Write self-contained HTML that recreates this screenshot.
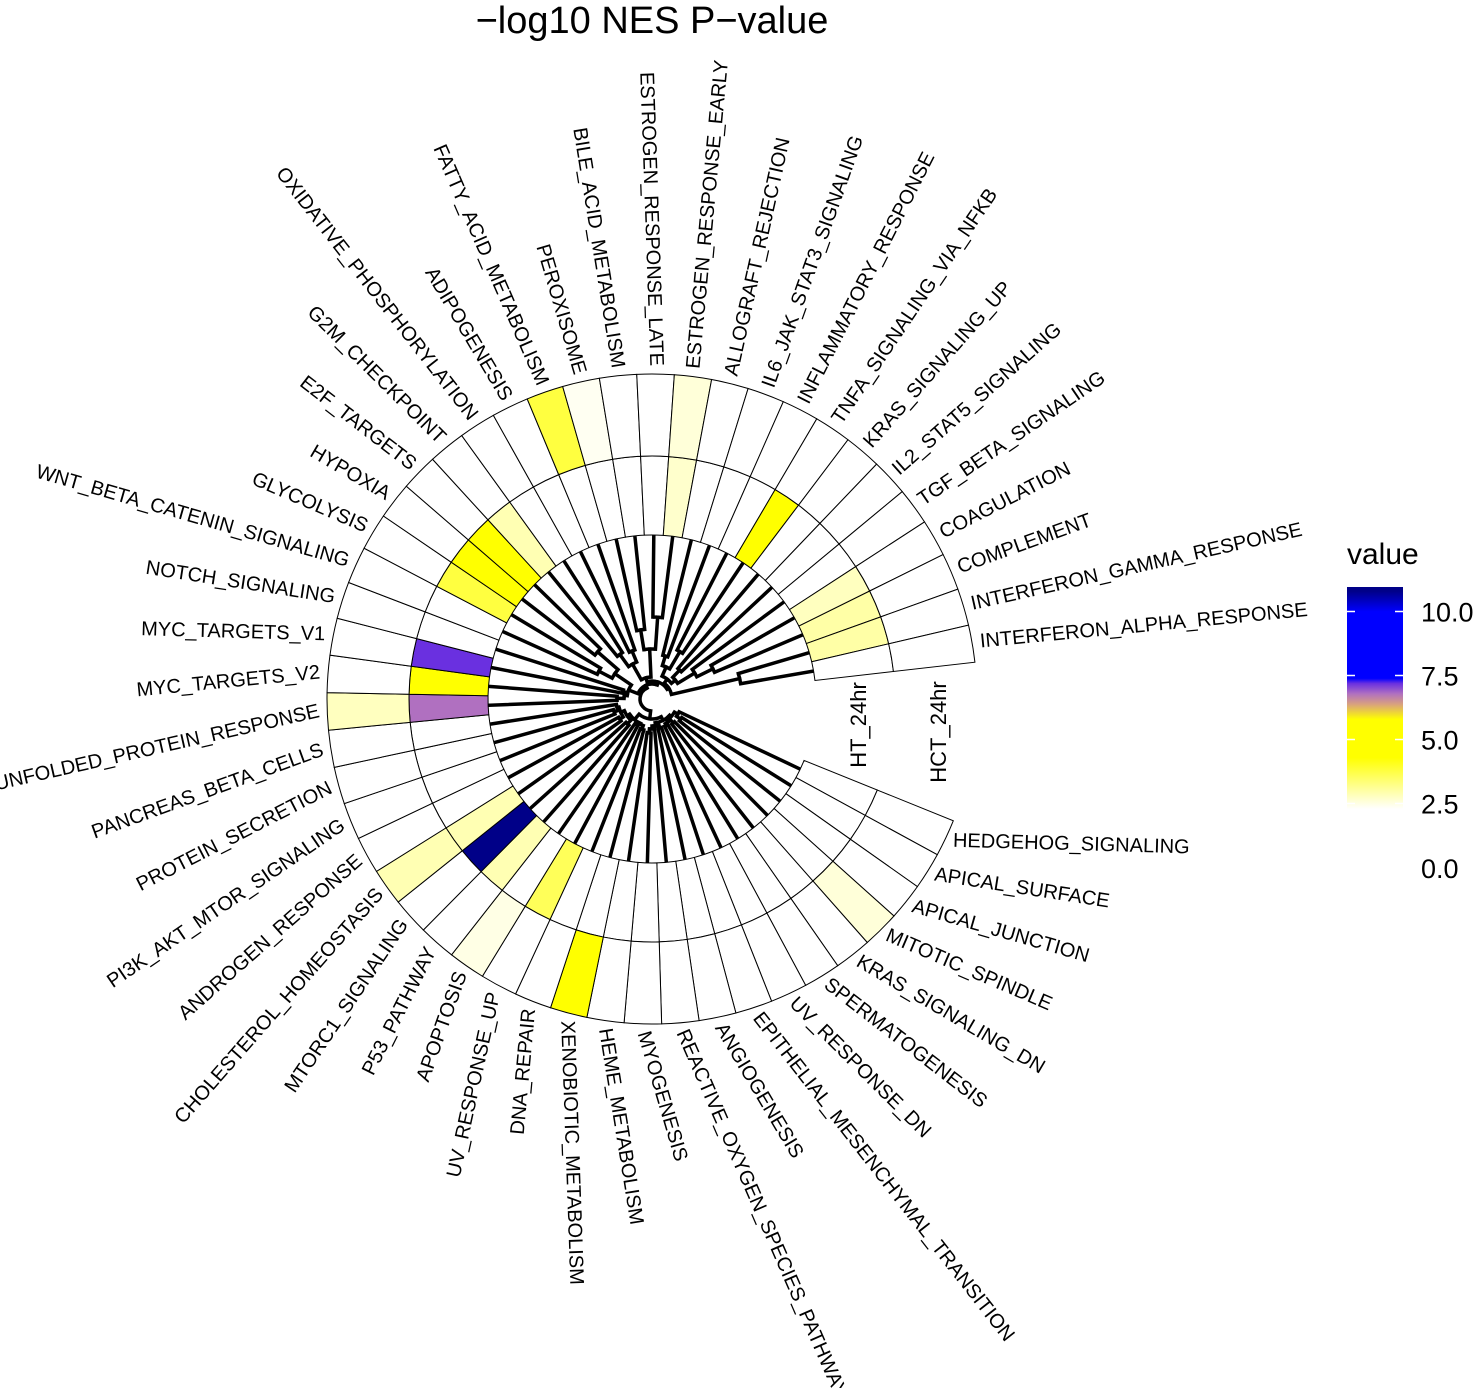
<!DOCTYPE html>
<html><head><meta charset="utf-8"><style>
html,body{margin:0;padding:0;background:#fff;}
svg{display:block;font-family:"Liberation Sans",sans-serif;}
.lb{font-size:20px;dominant-baseline:middle;}
.fl{text-anchor:end;}
</style></head><body>
<svg id="chart" width="1480" height="1388" viewBox="0 0 1480 1388">
<defs>
<path id="sht" d="M164,0 L243,0 A243,243 0 0 1 241.37,28.06 L162.90,18.94 A164,164 0 0 0 164,0 Z" stroke="#000" stroke-width="1"/>
<path id="shct" d="M243,0 L325,0 A325,325 0 0 1 322.83,37.52 L241.37,28.06 A243,243 0 0 0 243,0 Z" stroke="#000" stroke-width="1"/>
<linearGradient id="lgrad" x1="0" y1="1" x2="0" y2="0">
<stop offset="0" stop-color="#ffffff"/><stop offset="0.047" stop-color="#ffffff"/><stop offset="0.267" stop-color="#ffff00"/><stop offset="0.432" stop-color="#ffff00"/><stop offset="0.498" stop-color="#d8a080"/><stop offset="0.542" stop-color="#b070c0"/><stop offset="0.586" stop-color="#6a30e0"/><stop offset="0.608" stop-color="#0000ff"/><stop offset="0.894" stop-color="#0000ff"/><stop offset="0.982" stop-color="#000088"/><stop offset="1" stop-color="#000088"/>
</linearGradient>
</defs>
<text x="652" y="33" font-size="38" text-anchor="middle">−log10 NES P−value</text>

<g id="ringht" transform="translate(652,699)">
<use href="#sht" class="ch" transform="rotate(22)" fill="#fff"/>
<use href="#sht" class="ch" transform="rotate(28.63)" fill="#fff"/>
<use href="#sht" class="ch" transform="rotate(35.26)" fill="#fff"/>
<use href="#sht" class="ch" transform="rotate(41.89)" fill="#fff"/>
<use href="#sht" class="ch" transform="rotate(48.52)" fill="#fff"/>
<use href="#sht" class="ch" transform="rotate(55.15)" fill="#fff"/>
<use href="#sht" class="ch" transform="rotate(61.78)" fill="#fff"/>
<use href="#sht" class="ch" transform="rotate(68.41)" fill="#fff"/>
<use href="#sht" class="ch" transform="rotate(75.04)" fill="#fff"/>
<use href="#sht" class="ch" transform="rotate(81.67)" fill="#fff"/>
<use href="#sht" class="ch" transform="rotate(88.3)" fill="#fff"/>
<use href="#sht" class="ch" transform="rotate(94.93)" fill="#fff"/>
<use href="#sht" class="ch" transform="rotate(101.56)" fill="#fff"/>
<use href="#sht" class="ch" transform="rotate(108.19)" fill="#fff"/>
<use href="#sht" class="ch" transform="rotate(114.82)" fill="rgb(255,255,89)"/>
<use href="#sht" class="ch" transform="rotate(121.45)" fill="#fff"/>
<use href="#sht" class="ch" transform="rotate(128.08)" fill="rgb(255,255,179)"/>
<use href="#sht" class="ch" transform="rotate(134.71)" fill="#000088"/>
<use href="#sht" class="ch" transform="rotate(141.34)" fill="rgb(255,255,179)"/>
<use href="#sht" class="ch" transform="rotate(147.97)" fill="#fff"/>
<use href="#sht" class="ch" transform="rotate(154.6)" fill="#fff"/>
<use href="#sht" class="ch" transform="rotate(161.23)" fill="#fff"/>
<use href="#sht" class="ch" transform="rotate(167.86)" fill="#fff"/>
<use href="#sht" class="ch" transform="rotate(174.49)" fill="#b070c0"/>
<use href="#sht" class="ch" transform="rotate(181.12)" fill="#ffff00"/>
<use href="#sht" class="ch" transform="rotate(187.75)" fill="#6a30e0"/>
<use href="#sht" class="ch" transform="rotate(194.38)" fill="#fff"/>
<use href="#sht" class="ch" transform="rotate(201.01)" fill="#fff"/>
<use href="#sht" class="ch" transform="rotate(207.64)" fill="rgb(255,255,64)"/>
<use href="#sht" class="ch" transform="rotate(214.27)" fill="#ffff00"/>
<use href="#sht" class="ch" transform="rotate(220.9)" fill="#ffff00"/>
<use href="#sht" class="ch" transform="rotate(227.53)" fill="rgb(255,255,179)"/>
<use href="#sht" class="ch" transform="rotate(234.16)" fill="#fff"/>
<use href="#sht" class="ch" transform="rotate(240.79)" fill="#fff"/>
<use href="#sht" class="ch" transform="rotate(247.42)" fill="#fff"/>
<use href="#sht" class="ch" transform="rotate(254.05)" fill="#fff"/>
<use href="#sht" class="ch" transform="rotate(260.68)" fill="#fff"/>
<use href="#sht" class="ch" transform="rotate(267.31)" fill="#fff"/>
<use href="#sht" class="ch" transform="rotate(273.94)" fill="rgb(255,255,204)"/>
<use href="#sht" class="ch" transform="rotate(280.57)" fill="#fff"/>
<use href="#sht" class="ch" transform="rotate(287.2)" fill="#fff"/>
<use href="#sht" class="ch" transform="rotate(293.83)" fill="#fff"/>
<use href="#sht" class="ch" transform="rotate(300.46)" fill="#ffff00"/>
<use href="#sht" class="ch" transform="rotate(307.09)" fill="#fff"/>
<use href="#sht" class="ch" transform="rotate(313.72)" fill="#fff"/>
<use href="#sht" class="ch" transform="rotate(320.35)" fill="#fff"/>
<use href="#sht" class="ch" transform="rotate(326.98)" fill="rgb(255,255,191)"/>
<use href="#sht" class="ch" transform="rotate(333.61)" fill="rgb(255,255,166)"/>
<use href="#sht" class="ch" transform="rotate(340.24)" fill="rgb(255,255,166)"/>
<use href="#sht" class="ch" transform="rotate(346.87)" fill="#fff"/>
</g>

<g id="ringhct" transform="translate(652,699)">
<use href="#shct" class="cc" transform="rotate(22)" fill="#fff"/>
<use href="#shct" class="cc" transform="rotate(28.63)" fill="#fff"/>
<use href="#shct" class="cc" transform="rotate(35.26)" fill="#fff"/>
<use href="#shct" class="cc" transform="rotate(41.89)" fill="rgb(255,255,217)"/>
<use href="#shct" class="cc" transform="rotate(48.52)" fill="#fff"/>
<use href="#shct" class="cc" transform="rotate(55.15)" fill="#fff"/>
<use href="#shct" class="cc" transform="rotate(61.78)" fill="#fff"/>
<use href="#shct" class="cc" transform="rotate(68.41)" fill="#fff"/>
<use href="#shct" class="cc" transform="rotate(75.04)" fill="#fff"/>
<use href="#shct" class="cc" transform="rotate(81.67)" fill="#fff"/>
<use href="#shct" class="cc" transform="rotate(88.3)" fill="#fff"/>
<use href="#shct" class="cc" transform="rotate(94.93)" fill="#fff"/>
<use href="#shct" class="cc" transform="rotate(101.56)" fill="#ffff00"/>
<use href="#shct" class="cc" transform="rotate(108.19)" fill="#fff"/>
<use href="#shct" class="cc" transform="rotate(114.82)" fill="#fff"/>
<use href="#shct" class="cc" transform="rotate(121.45)" fill="rgb(255,255,230)"/>
<use href="#shct" class="cc" transform="rotate(128.08)" fill="#fff"/>
<use href="#shct" class="cc" transform="rotate(134.71)" fill="#fff"/>
<use href="#shct" class="cc" transform="rotate(141.34)" fill="rgb(255,255,179)"/>
<use href="#shct" class="cc" transform="rotate(147.97)" fill="#fff"/>
<use href="#shct" class="cc" transform="rotate(154.6)" fill="#fff"/>
<use href="#shct" class="cc" transform="rotate(161.23)" fill="#fff"/>
<use href="#shct" class="cc" transform="rotate(167.86)" fill="#fff"/>
<use href="#shct" class="cc" transform="rotate(174.49)" fill="rgb(255,255,191)"/>
<use href="#shct" class="cc" transform="rotate(181.12)" fill="#fff"/>
<use href="#shct" class="cc" transform="rotate(187.75)" fill="#fff"/>
<use href="#shct" class="cc" transform="rotate(194.38)" fill="#fff"/>
<use href="#shct" class="cc" transform="rotate(201.01)" fill="#fff"/>
<use href="#shct" class="cc" transform="rotate(207.64)" fill="#fff"/>
<use href="#shct" class="cc" transform="rotate(214.27)" fill="#fff"/>
<use href="#shct" class="cc" transform="rotate(220.9)" fill="#fff"/>
<use href="#shct" class="cc" transform="rotate(227.53)" fill="#fff"/>
<use href="#shct" class="cc" transform="rotate(234.16)" fill="#fff"/>
<use href="#shct" class="cc" transform="rotate(240.79)" fill="#fff"/>
<use href="#shct" class="cc" transform="rotate(247.42)" fill="rgb(255,255,64)"/>
<use href="#shct" class="cc" transform="rotate(254.05)" fill="rgb(255,255,242)"/>
<use href="#shct" class="cc" transform="rotate(260.68)" fill="#fff"/>
<use href="#shct" class="cc" transform="rotate(267.31)" fill="#fff"/>
<use href="#shct" class="cc" transform="rotate(273.94)" fill="rgb(255,255,217)"/>
<use href="#shct" class="cc" transform="rotate(280.57)" fill="#fff"/>
<use href="#shct" class="cc" transform="rotate(287.2)" fill="#fff"/>
<use href="#shct" class="cc" transform="rotate(293.83)" fill="#fff"/>
<use href="#shct" class="cc" transform="rotate(300.46)" fill="#fff"/>
<use href="#shct" class="cc" transform="rotate(307.09)" fill="#fff"/>
<use href="#shct" class="cc" transform="rotate(313.72)" fill="#fff"/>
<use href="#shct" class="cc" transform="rotate(320.35)" fill="#fff"/>
<use href="#shct" class="cc" transform="rotate(326.98)" fill="#fff"/>
<use href="#shct" class="cc" transform="rotate(333.61)" fill="#fff"/>
<use href="#shct" class="cc" transform="rotate(340.24)" fill="#fff"/>
<use href="#shct" class="cc" transform="rotate(346.87)" fill="#fff"/>
</g>

<g transform="translate(652,699)" stroke="#000" stroke-width="3.5" stroke-linecap="square" fill="none">
<g>
<line x1="162" x2="30" transform="rotate(25.32)"/><line x1="162" x2="35" transform="rotate(31.95)"/><line x1="162" x2="35" transform="rotate(38.58)"/>
<line x1="162" x2="32" transform="rotate(45.21)"/><line x1="162" x2="32" transform="rotate(51.84)"/><line x1="162" x2="30" transform="rotate(58.47)"/>
<line x1="162" x2="30" transform="rotate(65.1)"/><line x1="162" x2="30" transform="rotate(71.73)"/><line x1="162" x2="30" transform="rotate(78.36)"/>
<line x1="162" x2="30" transform="rotate(84.99)"/><line x1="162" x2="34" transform="rotate(91.62)"/><line x1="162" x2="34" transform="rotate(98.25)"/>
<line x1="162" x2="32" transform="rotate(104.88)"/><line x1="162" x2="32" transform="rotate(111.51)"/><line x1="162" x2="30" transform="rotate(118.14)"/>
<line x1="162" x2="30" transform="rotate(124.77)"/><line x1="162" x2="35" transform="rotate(131.4)"/><line x1="162" x2="35" transform="rotate(138.03)"/>
<line x1="162" x2="38" transform="rotate(144.66)"/><line x1="162" x2="38" transform="rotate(151.29)"/><line x1="162" x2="40" transform="rotate(157.92)"/>
<line x1="162" x2="40" transform="rotate(164.55)"/><line x1="162" x2="36" transform="rotate(171.18)"/><line x1="162" x2="35" transform="rotate(177.81)"/>
<line x1="162" x2="35" transform="rotate(184.44)"/><line x1="162" x2="30" transform="rotate(191.07)"/><line x1="162" x2="30" transform="rotate(197.7)"/>
<line x1="162" x2="60" transform="rotate(204.33)"/><line x1="162" x2="60" transform="rotate(210.96)"/><line x1="162" x2="72" transform="rotate(217.59)"/>
<line x1="162" x2="72" transform="rotate(224.22)"/><line x1="162" x2="55" transform="rotate(230.85)"/><line x1="162" x2="55" transform="rotate(237.48)"/>
<line x1="162" x2="52" transform="rotate(244.11)"/><line x1="162" x2="52" transform="rotate(250.74)"/><line x1="162" x2="70" transform="rotate(257.37)"/>
<line x1="162" x2="70" transform="rotate(264)"/><line x1="162" x2="82" transform="rotate(270.63)"/><line x1="162" x2="82" transform="rotate(277.26)"/>
<line x1="162" x2="45" transform="rotate(283.89)"/><line x1="162" x2="45" transform="rotate(290.52)"/><line x1="162" x2="55" transform="rotate(297.15)"/>
<line x1="162" x2="55" transform="rotate(303.78)"/><line x1="162" x2="40" transform="rotate(310.41)"/><line x1="162" x2="40" transform="rotate(317.04)"/>
<line x1="162" x2="50" transform="rotate(323.67)"/><line x1="162" x2="68" transform="rotate(330.3)"/><line x1="162" x2="68" transform="rotate(336.93)"/>
<line x1="162" x2="90" transform="rotate(343.56)"/><line x1="162" x2="90" transform="rotate(350.19)"/>
</g>
<g>
<line x1="35" x2="30" transform="rotate(35.27)"/><line x1="30" x2="26" transform="rotate(30.29)"/><line x1="32" x2="28" transform="rotate(48.53)"/>
<line x1="30" x2="28" transform="rotate(61.79)"/><line x1="28" x2="26" transform="rotate(55.16)"/><line x1="26" x2="24" transform="rotate(42.73)"/>
<line x1="30" x2="27" transform="rotate(75.05)"/><line x1="34" x2="30" transform="rotate(94.94)"/><line x1="30" x2="27" transform="rotate(89.97)"/>
<line x1="27" x2="24" transform="rotate(82.51)"/><line x1="24" x2="20" transform="rotate(62.62)"/>
<line x1="32" x2="28" transform="rotate(108.2)"/><line x1="30" x2="28" transform="rotate(121.46)"/><line x1="28" x2="27" transform="rotate(114.83)"/>
<line x1="35" x2="30" transform="rotate(134.72)"/><line x1="38" x2="34" transform="rotate(147.98)"/><line x1="40" x2="36" transform="rotate(161.24)"/>
<line x1="36" x2="34" transform="rotate(166.21)"/><line x1="34" x2="30" transform="rotate(157.1)"/><line x1="30" x2="27" transform="rotate(145.91)"/>
<line x1="27" x2="20" transform="rotate(130.37)"/><line x1="20" x2="12" transform="rotate(96.5)"/>
<line x1="35" x2="28" transform="rotate(181.13)"/><line x1="30" x2="28" transform="rotate(194.39)"/><line x1="28" x2="25" transform="rotate(187.76)"/>
<line x1="60" x2="45" transform="rotate(207.65)"/><line x1="72" x2="45" transform="rotate(220.91)"/><line x1="45" x2="25" transform="rotate(214.28)"/>
<line x1="25" x2="15" transform="rotate(201.02)"/>
<line x1="55" x2="40" transform="rotate(234.17)"/><line x1="52" x2="40" transform="rotate(247.43)"/><line x1="40" x2="22" transform="rotate(240.8)"/>
<line x1="70" x2="50" transform="rotate(260.69)"/><line x1="82" x2="50" transform="rotate(273.95)"/><line x1="50" x2="22" transform="rotate(267.32)"/>
<line x1="22" x2="18" transform="rotate(254.06)"/>
<line x1="45" x2="35" transform="rotate(287.21)"/><line x1="55" x2="35" transform="rotate(300.47)"/><line x1="35" x2="25" transform="rotate(293.84)"/>
<line x1="40" x2="30" transform="rotate(313.73)"/><line x1="68" x2="50" transform="rotate(333.62)"/><line x1="50" x2="30" transform="rotate(328.65)"/>
<line x1="30" x2="25" transform="rotate(321.19)"/><line x1="25" x2="20" transform="rotate(307.52)"/><line x1="90" x2="20" transform="rotate(346.88)"/>
<line x1="20" x2="18" transform="rotate(327.2)"/><line x1="18" x2="15" transform="rotate(290.63)"/><line x1="15" x2="12" transform="rotate(245.83)"/>
</g>
<g stroke-linecap="butt">
<circle r="35" transform="rotate(31.95)" stroke-dasharray="4.05 3000"/><circle r="30" transform="rotate(25.32)" stroke-dasharray="5.21 3000"/>
<circle r="32" transform="rotate(45.21)" stroke-dasharray="3.70 3000"/><circle r="30" transform="rotate(58.47)" stroke-dasharray="3.47 3000"/>
<circle r="28" transform="rotate(48.53)" stroke-dasharray="6.48 3000"/><circle r="26" transform="rotate(30.29)" stroke-dasharray="11.29 3000"/>
<circle r="30" transform="rotate(71.73)" stroke-dasharray="3.47 3000"/><circle r="34" transform="rotate(91.62)" stroke-dasharray="3.93 3000"/>
<circle r="30" transform="rotate(84.99)" stroke-dasharray="5.21 3000"/><circle r="27" transform="rotate(75.05)" stroke-dasharray="7.03 3000"/>
<circle r="24" transform="rotate(42.73)" stroke-dasharray="16.66 3000"/>
<circle r="32" transform="rotate(104.88)" stroke-dasharray="3.70 3000"/><circle r="30" transform="rotate(118.14)" stroke-dasharray="3.47 3000"/>
<circle r="28" transform="rotate(108.2)" stroke-dasharray="6.48 3000"/><circle r="35" transform="rotate(131.4)" stroke-dasharray="4.05 3000"/>
<circle r="38" transform="rotate(144.66)" stroke-dasharray="4.40 3000"/><circle r="40" transform="rotate(157.92)" stroke-dasharray="4.63 3000"/>
<circle r="36" transform="rotate(161.24)" stroke-dasharray="6.25 3000"/><circle r="34" transform="rotate(147.98)" stroke-dasharray="10.82 3000"/>
<circle r="30" transform="rotate(134.72)" stroke-dasharray="11.72 3000"/><circle r="27" transform="rotate(114.83)" stroke-dasharray="14.65 3000"/>
<circle r="20" transform="rotate(62.62)" stroke-dasharray="23.65 3000"/>
<circle r="35" transform="rotate(177.81)" stroke-dasharray="4.05 3000"/><circle r="30" transform="rotate(191.07)" stroke-dasharray="3.47 3000"/>
<circle r="28" transform="rotate(181.13)" stroke-dasharray="6.48 3000"/><circle r="60" transform="rotate(204.33)" stroke-dasharray="6.94 3000"/>
<circle r="72" transform="rotate(217.59)" stroke-dasharray="8.33 3000"/><circle r="45" transform="rotate(207.65)" stroke-dasharray="10.41 3000"/>
<circle r="25" transform="rotate(187.76)" stroke-dasharray="11.57 3000"/>
<circle r="55" transform="rotate(230.85)" stroke-dasharray="6.36 3000"/><circle r="52" transform="rotate(244.11)" stroke-dasharray="6.02 3000"/>
<circle r="40" transform="rotate(234.17)" stroke-dasharray="9.26 3000"/><circle r="70" transform="rotate(257.37)" stroke-dasharray="8.10 3000"/>
<circle r="82" transform="rotate(270.63)" stroke-dasharray="9.49 3000"/><circle r="50" transform="rotate(260.69)" stroke-dasharray="11.57 3000"/>
<circle r="22" transform="rotate(240.8)" stroke-dasharray="10.18 3000"/>
<circle r="45" transform="rotate(283.89)" stroke-dasharray="5.21 3000"/><circle r="55" transform="rotate(297.15)" stroke-dasharray="6.36 3000"/>
<circle r="35" transform="rotate(287.21)" stroke-dasharray="8.10 3000"/><circle r="40" transform="rotate(310.41)" stroke-dasharray="4.63 3000"/>
<circle r="68" transform="rotate(330.3)" stroke-dasharray="7.87 3000"/><circle r="50" transform="rotate(323.67)" stroke-dasharray="8.68 3000"/>
<circle r="30" transform="rotate(313.73)" stroke-dasharray="7.81 3000"/><circle r="25" transform="rotate(293.84)" stroke-dasharray="11.93 3000"/>
<circle r="90" transform="rotate(343.56)" stroke-dasharray="10.41 3000"/><circle r="20" transform="rotate(307.52)" stroke-dasharray="13.74 3000"/>
<circle r="18" transform="rotate(254.06)" stroke-dasharray="22.98 3000"/><circle r="15" transform="rotate(201.02)" stroke-dasharray="23.46 3000"/>
<circle r="12" transform="rotate(96.5)" stroke-dasharray="31.27 3000"/>
</g>
</g>

<g transform="translate(652,699)">
<text class="lb" transform="rotate(25.32) translate(333,0) rotate(-23.7)">HEDGEHOG_SIGNALING</text>
<text class="lb" transform="rotate(31.95) translate(333,0) rotate(-23.13)">APICAL_SURFACE</text>
<text class="lb" transform="rotate(38.58) translate(333,0) rotate(-22.56)">APICAL_JUNCTION</text>
<text class="lb" transform="rotate(45.21) translate(333,0) rotate(-21.99)">MITOTIC_SPINDLE</text>
<text class="lb" transform="rotate(51.84) translate(333,0) rotate(-21.42)">KRAS_SIGNALING_DN</text>
<text class="lb" transform="rotate(58.47) translate(333,0) rotate(-20.85)">SPERMATOGENESIS</text>
<text class="lb" transform="rotate(65.1) translate(333,0) rotate(-20.28)">UV_RESPONSE_DN</text>
<text class="lb" transform="rotate(71.73) translate(333,0) rotate(-19.71)">EPITHELIAL_MESENCHYMAL_TRANSITION</text>
<text class="lb" transform="rotate(78.36) translate(333,0) rotate(-19.14)">ANGIOGENESIS</text>
<text class="lb" transform="rotate(84.99) translate(333,0) rotate(-18.57)">REACTIVE_OXYGEN_SPECIES_PATHWAY</text>
<text class="lb" transform="rotate(91.62) translate(333,0) rotate(-18)">MYOGENESIS</text>
<text class="lb" transform="rotate(98.25) translate(333,0) rotate(-17.43)">HEME_METABOLISM</text>
<text class="lb" transform="rotate(104.88) translate(333,0) rotate(-16.86)">XENOBIOTIC_METABOLISM</text>
<text class="lb fl" transform="rotate(111.51) translate(333,0) rotate(163.71)">DNA_REPAIR</text>
<text class="lb fl" transform="rotate(118.14) translate(333,0) rotate(164.28)">UV_RESPONSE_UP</text>
<text class="lb fl" transform="rotate(124.77) translate(333,0) rotate(164.85)">APOPTOSIS</text>
<text class="lb fl" transform="rotate(131.4) translate(333,0) rotate(165.42)">P53_PATHWAY</text>
<text class="lb fl" transform="rotate(138.03) translate(333,0) rotate(165.99)">MTORC1_SIGNALING</text>
<text class="lb fl" transform="rotate(144.66) translate(333,0) rotate(166.56)">CHOLESTEROL_HOMEOSTASIS</text>
<text class="lb fl" transform="rotate(151.29) translate(333,0) rotate(167.13)">ANDROGEN_RESPONSE</text>
<text class="lb fl" transform="rotate(157.92) translate(333,0) rotate(167.7)">PI3K_AKT_MTOR_SIGNALING</text>
<text class="lb fl" transform="rotate(164.55) translate(333,0) rotate(168.27)">PROTEIN_SECRETION</text>
<text class="lb fl" transform="rotate(171.18) translate(333,0) rotate(168.84)">PANCREAS_BETA_CELLS</text>
<text class="lb fl" transform="rotate(177.81) translate(333,0) rotate(169.41)">UNFOLDED_PROTEIN_RESPONSE</text>
<text class="lb fl" transform="rotate(184.44) translate(333,0) rotate(169.98)">MYC_TARGETS_V2</text>
<text class="lb fl" transform="rotate(191.07) translate(333,0) rotate(170.55)">MYC_TARGETS_V1</text>
<text class="lb fl" transform="rotate(197.7) translate(333,0) rotate(171.12)">NOTCH_SIGNALING</text>
<text class="lb fl" transform="rotate(204.33) translate(333,0) rotate(171.69)">WNT_BETA_CATENIN_SIGNALING</text>
<text class="lb fl" transform="rotate(210.96) translate(333,0) rotate(172.26)">GLYCOLYSIS</text>
<text class="lb fl" transform="rotate(217.59) translate(333,0) rotate(172.83)">HYPOXIA</text>
<text class="lb fl" transform="rotate(224.22) translate(333,0) rotate(173.4)">E2F_TARGETS</text>
<text class="lb fl" transform="rotate(230.85) translate(333,0) rotate(173.97)">G2M_CHECKPOINT</text>
<text class="lb fl" transform="rotate(237.48) translate(333,0) rotate(174.54)">OXIDATIVE_PHOSPHORYLATION</text>
<text class="lb fl" transform="rotate(244.11) translate(333,0) rotate(175.11)">ADIPOGENESIS</text>
<text class="lb fl" transform="rotate(250.74) translate(333,0) rotate(175.68)">FATTY_ACID_METABOLISM</text>
<text class="lb fl" transform="rotate(257.37) translate(333,0) rotate(176.25)">PEROXISOME</text>
<text class="lb fl" transform="rotate(264) translate(333,0) rotate(176.82)">BILE_ACID_METABOLISM</text>
<text class="lb fl" transform="rotate(270.63) translate(333,0) rotate(177.39)">ESTROGEN_RESPONSE_LATE</text>
<text class="lb" transform="rotate(277.26) translate(333,0) rotate(-1.96)">ESTROGEN_RESPONSE_EARLY</text>
<text class="lb" transform="rotate(283.89) translate(333,0) rotate(-1.39)">ALLOGRAFT_REJECTION</text>
<text class="lb" transform="rotate(290.52) translate(333,0) rotate(-0.82)">IL6_JAK_STAT3_SIGNALING</text>
<text class="lb" transform="rotate(297.15) translate(333,0) rotate(-0.25)">INFLAMMATORY_RESPONSE</text>
<text class="lb" transform="rotate(303.78) translate(333,0) rotate(0.32)">TNFA_SIGNALING_VIA_NFKB</text>
<text class="lb" transform="rotate(310.41) translate(333,0) rotate(0.89)">KRAS_SIGNALING_UP</text>
<text class="lb" transform="rotate(317.04) translate(333,0) rotate(1.46)">IL2_STAT5_SIGNALING</text>
<text class="lb" transform="rotate(323.67) translate(333,0) rotate(2.03)">TGF_BETA_SIGNALING</text>
<text class="lb" transform="rotate(330.3) translate(333,0) rotate(2.6)">COAGULATION</text>
<text class="lb" transform="rotate(336.93) translate(333,0) rotate(3.17)">COMPLEMENT</text>
<text class="lb" transform="rotate(343.56) translate(333,0) rotate(3.74)">INTERFERON_GAMMA_RESPONSE</text>
<text class="lb" transform="rotate(350.19) translate(333,0) rotate(4.31)">INTERFERON_ALPHA_RESPONSE</text>
</g>

<text transform="translate(866,725) rotate(-90)" font-size="22" text-anchor="middle">HT_24hr</text>
<text transform="translate(946,732) rotate(-90)" font-size="22" text-anchor="middle">HCT_24hr</text>

<g>
<text x="1347" y="564" font-size="30">value</text>
<rect x="1347" y="587" width="56" height="233" fill="url(#lgrad)"/>
<g stroke="#fff" stroke-width="1.5">
<line x1="1347" x2="1355" y1="611.5" y2="611.5"/><line x1="1395" x2="1403" y1="611.5" y2="611.5"/>
<line x1="1347" x2="1355" y1="675.5" y2="675.5"/><line x1="1395" x2="1403" y1="675.5" y2="675.5"/>
<line x1="1347" x2="1355" y1="739.5" y2="739.5"/><line x1="1395" x2="1403" y1="739.5" y2="739.5"/>
<line x1="1347" x2="1355" y1="803.5" y2="803.5"/><line x1="1395" x2="1403" y1="803.5" y2="803.5"/>
</g>
<g font-size="27">
<text x="1421" y="621.5">10.0</text>
<text x="1421" y="685.5">7.5</text>
<text x="1421" y="749.5">5.0</text>
<text x="1421" y="813.5">2.5</text>
<text x="1421" y="878">0.0</text>
</g>
</g>
</svg>
<script>
var htValues  = [0,0,0,0,0,0,0,0,0,0,0,0,0,0,3.6,0,2.9,10.8,2.9,0,0,0,0,6.8,5,7.2,0,0,3.8,5,5,2.9,0,0,0,0,0,0,2.7,0,0,0,5,0,0,0,2.8,3.0,3.0,0];
var hctValues = [0,0,0,2.6,0,0,0,0,0,0,0,0,5,0,0,2.5,0,0,2.9,0,0,0,0,2.8,0,0,0,0,0,0,0,0,0,0,3.8,2.4,0,0,2.6,0,0,0,0,0,0,0,0,0,0,0];
var colorStopValues = [2.3,4.3,5.8,6.4,6.8,7.2,7.4,10.0,10.8];
var colorStopColors = [[255,255,255],[255,255,0],[255,255,0],[216,160,128],[176,112,192],[106,48,224],[0,0,255],[0,0,255],[0,0,136]];
function colorOf(v){
  var n=colorStopValues.length;
  if(colorStopValues[0] >= v) return "rgb(255,255,255)";
  for(var k=1; n > k; k++){
    if(colorStopValues[k] >= v){
      var t=(v-colorStopValues[k-1])/(colorStopValues[k]-colorStopValues[k-1]);
      var a=colorStopColors[k-1], b=colorStopColors[k];
      return "rgb("+Math.round(a[0]+(b[0]-a[0])*t)+","+Math.round(a[1]+(b[1]-a[1])*t)+","+Math.round(a[2]+(b[2]-a[2])*t)+")";
    }
  }
  return "rgb(0,0,136)";
}
try {
  var htCells=document.querySelectorAll('.ch');
  var hctCells=document.querySelectorAll('.cc');
  for(var i=0; htCells.length > i; i++){ htCells[i].setAttribute('fill', colorOf(htValues[i])); }
  for(var j=0; hctCells.length > j; j++){ hctCells[j].setAttribute('fill', colorOf(hctValues[j])); }
} catch(e) {}
</script>
</body></html>
